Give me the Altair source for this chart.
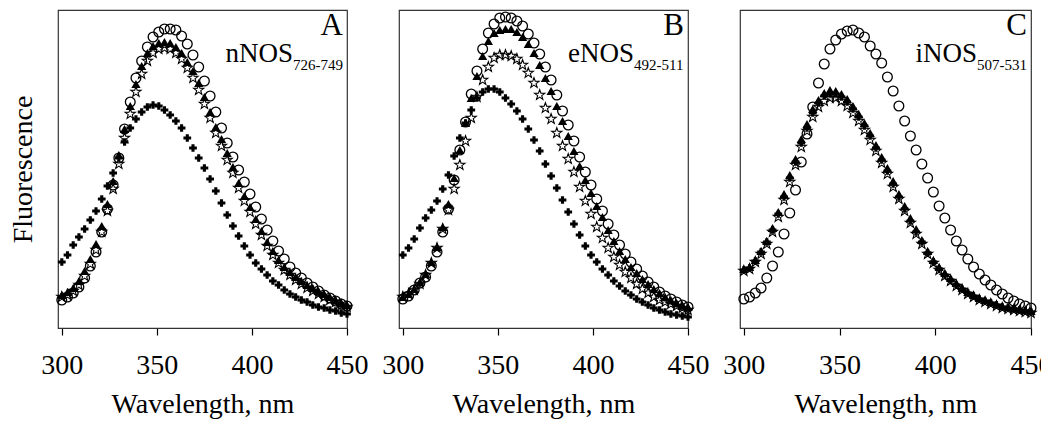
import altair as alt
import pandas as pd

# Wavelength grid (nm), one point every 3 nm
wavelength = list(range(300, 451, 3))

# Panel A  (nNOS726-749)
a_circle = [28, 31, 35, 41, 50, 62, 76, 96, 119, 143, 170, 199, 226, 250, 267, 281, 291, 296, 299, 299, 298, 292, 284, 273, 261, 247, 232, 216, 200, 185, 171, 158, 146, 134, 121, 109, 98, 87, 77, 69, 61, 55, 50, 45, 41, 37, 33, 30, 27, 24, 22]
a_triangle = [33, 36, 40, 47, 57, 69, 84, 102, 124, 147, 173, 199, 222, 244, 262, 275, 282, 285, 286, 285, 281, 275, 266, 257, 245, 231, 216, 201, 189, 175, 161, 145, 132, 121, 109, 97, 86, 77, 68, 61, 56, 51, 47, 43, 40, 37, 34, 31, 28, 25, 23]
a_star = [31, 33, 37, 43, 52, 64, 78, 96, 117, 139, 164, 190, 214, 236, 254, 267, 275, 279, 280, 279, 275, 269, 260, 250, 238, 224, 210, 195, 182, 168, 155, 140, 127, 116, 104, 93, 82, 73, 65, 58, 53, 48, 44, 40, 37, 34, 31, 28, 26, 23, 21]
a_plus = [66, 73, 83, 91, 99, 108, 117, 129, 142, 155, 170, 186, 200, 209, 216, 221, 223, 222, 218, 213, 207, 200, 190, 180, 170, 160, 149, 137, 125, 113, 102, 92, 82, 73, 65, 59, 53, 47, 43, 38, 34, 31, 28, 26, 23, 21, 20, 18, 17, 15, 14]

# Panel B  (eNOS492-511)
b_circle = [29, 32, 38, 45, 51, 62, 76, 96, 119, 148, 178, 206, 234, 257, 279, 295, 304, 310, 311, 310, 307, 302, 294, 285, 274, 261, 248, 233, 217, 203, 187, 171, 156, 143, 129, 117, 104, 93, 83, 74, 66, 59, 52, 46, 41, 36, 32, 29, 26, 23, 21]
b_triangle = [31, 34, 39, 46, 54, 66, 81, 101, 124, 150, 178, 205, 230, 252, 272, 287, 295, 298, 299, 299, 296, 291, 284, 275, 263, 250, 237, 222, 207, 192, 177, 162, 148, 135, 122, 111, 98, 87, 77, 69, 61, 55, 49, 44, 39, 35, 31, 28, 25, 23, 21]
b_star = [31, 34, 38, 44, 53, 65, 80, 99, 118, 139, 163, 187, 210, 231, 248, 261, 270, 273, 273, 272, 269, 263, 255, 245, 233, 220, 209, 195, 182, 169, 156, 141, 127, 114, 101, 90, 80, 71, 63, 56, 50, 44, 39, 35, 31, 28, 26, 24, 22, 20, 18]
b_plus = [73, 80, 89, 100, 110, 118, 127, 139, 153, 172, 190, 205, 218, 230, 236, 239, 239, 236, 230, 224, 217, 209, 199, 188, 177, 164, 152, 140, 128, 116, 104, 93, 82, 73, 66, 59, 53, 47, 42, 37, 33, 29, 26, 23, 20, 18, 16, 14, 13, 12, 11]

# Panel C  (iNOS507-531)
c_circle = [29, 31, 35, 40, 50, 62, 76, 94, 115, 138, 166, 194, 221, 245, 264, 279, 288, 294, 297, 298, 295, 291, 282, 274, 265, 251, 237, 222, 207, 192, 178, 164, 150, 136, 122, 110, 98, 87, 78, 69, 61, 54, 48, 43, 38, 34, 30, 27, 24, 22, 20]
c_triangle = [59, 61, 68, 77, 87, 100, 116, 134, 153, 169, 189, 204, 219, 228, 235, 238, 237, 234, 229, 222, 214, 205, 195, 183, 171, 160, 147, 134, 122, 110, 99, 88, 77, 68, 61, 55, 50, 45, 40, 36, 33, 30, 28, 26, 24, 22, 21, 20, 19, 18, 17]
c_star = [57, 59, 66, 74, 84, 96, 111, 128, 146, 163, 181, 197, 211, 221, 227, 230, 230, 227, 222, 215, 207, 198, 188, 177, 165, 154, 141, 129, 117, 105, 94, 84, 74, 65, 58, 52, 47, 42, 38, 34, 31, 28, 26, 24, 22, 20, 19, 18, 17, 16, 15]
c_plus = [58, 60, 67, 76, 86, 98, 114, 131, 150, 166, 185, 200, 215, 225, 232, 234, 234, 231, 226, 219, 211, 202, 192, 180, 168, 157, 144, 131, 119, 107, 96, 86, 75, 66, 59, 53, 48, 43, 39, 35, 32, 29, 27, 25, 23, 21, 20, 19, 18, 17, 16]

x_ticks = [300, 350, 400, 450]
panel_letters = ["A", "B", "C"]
panel_names = ["nNOS", "eNOS", "iNOS"]
panel_subs = ["726-749", "492-511", "507-531"]

FONT = "Liberation Serif"
STAR = ("M0,-1L0.235,-0.324L0.951,-0.309L0.38,0.124L0.588,0.809L0,0.4"
        "L-0.588,0.809L-0.38,0.124L-0.951,-0.309L-0.235,-0.324Z")
H = 318


def panel(circle, tri, star, plus, letter, name, sub, width, show_y):
    df = pd.DataFrame({"wl": wavelength, "circle": circle, "tri": tri,
                       "star": star, "plus": plus})
    xenc = alt.X("wl:Q",
                 scale=alt.Scale(domain=[298, 450], nice=False, zero=False),
                 axis=alt.Axis(values=x_ticks, title="Wavelength, nm",
                               labelFlush=False, labelOverlap=False,
                               grid=False, tickSize=7, labelPadding=16,
                               titlePadding=11))
    if show_y:
        yaxis = alt.Axis(title="Fluorescence", labels=False, ticks=False,
                         domain=False, grid=False, titlePadding=21)
    else:
        yaxis = None
    yscale = alt.Scale(domain=[0, H], nice=False, zero=True)

    def pts(field, shape, filled, size, sw):
        return alt.Chart(df).mark_point(
            shape=shape, filled=filled, size=size, color="black",
            strokeWidth=sw, opacity=1
        ).encode(x=xenc, y=alt.Y(f"{field}:Q", scale=yscale, axis=yaxis))

    def txt(t, align, x, y, size):
        return alt.Chart(pd.DataFrame({"t": [t]})).mark_text(
            align=align, baseline="alphabetic", font=FONT, fontSize=size,
            color="black"
        ).encode(text="t:N", x=alt.value(x), y=alt.value(y))

    layers = [
        pts("star", STAR, False, 115, 1.1),
        pts("tri", "triangle-up", True, 85, 0),
        pts("circle", "circle", False, 95, 1.3),
        pts("plus", "cross", True, 60, 0),
        txt(letter, "right", width - 4, 25, 31),
        txt(name, "right", width - 54, 52, 27),
        txt(sub, "left", width - 54, 60, 15),
    ]
    return alt.layer(*layers).properties(width=width, height=H)


pA = panel(a_circle, a_triangle, a_star, a_plus, panel_letters[0],
           panel_names[0], panel_subs[0], 289, True)
pB = panel(b_circle, b_triangle, b_star, b_plus, panel_letters[1],
           panel_names[1], panel_subs[1], 289, False)
pC = panel(c_circle, c_triangle, c_star, c_plus, panel_letters[2],
           panel_names[2], panel_subs[2], 291, False)

chart = alt.hconcat(pA, pB, pC, spacing=52, bounds="flush").properties(
    padding={"left": 0, "top": 0, "right": -12, "bottom": 0}
).configure_view(
    stroke="#333333", strokeWidth=1.2
).configure_axis(
    labelFont=FONT, titleFont=FONT, labelFontSize=28, titleFontSize=28,
    labelColor="black", titleColor="black", titleFontWeight="normal",
    tickColor="black", domainColor="#333333", tickWidth=1.2
)

chart.save("out.html", embed_options={"renderer": "svg", "actions": False})
